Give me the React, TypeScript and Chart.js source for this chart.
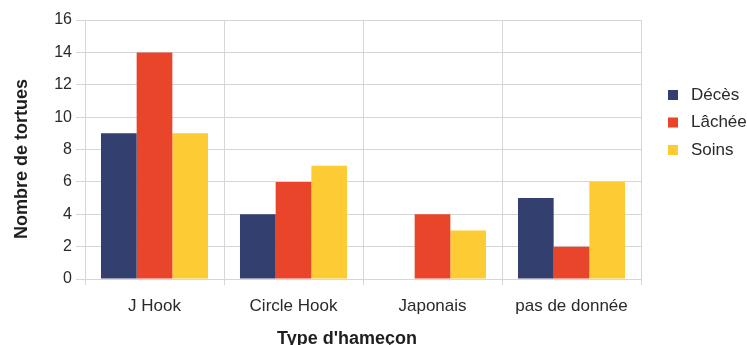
import React, { useEffect, useRef } from "react";
import { Chart, registerables } from "chart.js";

Chart.register(...registerables);

const categories = ["J Hook", "Circle Hook", "Japonais", "pas de donnée"];
const deces = [9, 4, 0, 5];
const lachee = [14, 6, 4, 2];
const soins = [9, 7, 3, 6];
const seriesLabels = ["Décès", "Lâchée", "Soins"];
const seriesColors = ["#333f6e", "#e8452a", "#fdcb33"];
const xTitle = "Type d'hameçon";
const yTitle = "Nombre de tortues";

const FONT = "'Liberation Sans', Arial, sans-serif";
const GRID = "#d6d6d6";

// Right-hand legend and both axis titles, painted after the chart
const extras = {
  id: "extras",
  afterDraw(chart: any) {
    const ctx = chart.ctx;
    const x = 668;
    const y0 = 95;
    const step = 27.5;
    ctx.save();
    ctx.font = `17px ${FONT}`;
    ctx.textBaseline = "middle";
    ctx.textAlign = "left";
    chart.data.datasets.forEach((ds: any, i: number) => {
      const y = y0 + i * step;
      ctx.fillStyle = ds.backgroundColor;
      ctx.fillRect(x, y - 5, 10, 10);
      ctx.fillStyle = "#2a2a2a";
      ctx.fillText(ds.label, x + 23, y);
    });

    ctx.font = `bold 18px ${FONT}`;
    ctx.fillStyle = "#1e1e1e";
    ctx.textAlign = "center";
    ctx.textBaseline = "alphabetic";
    ctx.fillText(xTitle, 347, 344);

    ctx.translate(22, 159);
    ctx.rotate(-Math.PI / 2);
    ctx.textBaseline = "middle";
    ctx.fillText(yTitle, 0, 0);
    ctx.restore();
  },
};

export default function App() {
  const ref = useRef<HTMLCanvasElement>(null);

  useEffect(() => {
    const values = [deces, lachee, soins];
    const chart = new Chart(ref.current!, {
      type: "bar",
      data: {
        labels: categories,
        datasets: values.map((v, i) => ({
          label: seriesLabels[i],
          data: v,
          backgroundColor: seriesColors[i],
          borderWidth: 0,
          barPercentage: 1,
          categoryPercentage: 0.77,
        })),
      },
      options: {
        animation: false,
        responsive: false,
        layout: { padding: { top: 20, right: 106, left: 0, bottom: 0 } },
        plugins: { legend: { display: false }, tooltip: { enabled: false } },
        scales: {
          x: {
            grid: { color: GRID, tickLength: 6, drawTicks: true },
            border: { color: GRID },
            ticks: { color: "#2a2a2a", font: { family: FONT, size: 17 }, padding: 11 },
            afterFit(scale: any) {
              scale.height = 66;
            },
          },
          y: {
            min: 0,
            max: 16,
            ticks: { stepSize: 2, color: "#2a2a2a", font: { family: FONT, size: 16 }, padding: 4 },
            grid: { color: GRID, tickLength: 9 },
            border: { color: GRID },
            afterFit(scale: any) {
              scale.width = 85;
            },
          },
        },
      },
      plugins: [extras],
    });
    return () => chart.destroy();
  }, []);

  return (
    <div style={{ position: "fixed", left: 0, top: 0, width: 747, height: 345, background: "#fff" }}>
      <canvas ref={ref} width={747} height={345} />
    </div>
  );
}
